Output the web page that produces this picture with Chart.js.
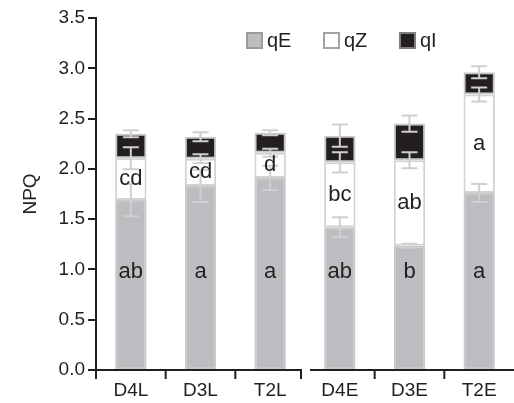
<!DOCTYPE html>
<html><head><meta charset="utf-8">
<script src="https://cdn.jsdelivr.net/npm/chart.js@4/dist/chart.umd.min.js"></script>
<style>html,body{margin:0;padding:0;background:#fff}</style>
</head><body>
<canvas id="c" width="514" height="403"></canvas>
<script>
// NPQ components per treatment (stacked: qE bottom, qZ middle, qI top)
const categories = ['D4L', 'D3L', 'T2L', 'D4E', 'D3E', 'T2E'];
const qE = [1.69, 1.83, 1.91, 1.42, 1.235, 1.76];
const qZ = [0.415, 0.27, 0.25, 0.645, 0.85, 0.98];
const qI = [0.245, 0.22, 0.20, 0.265, 0.365, 0.22];
const qEErr = [0.16, 0.16, 0.12, 0.10, 0.02, 0.09];
const qZErr = [0.11, 0.045, 0.04, 0.10, 0.08, 0.07];
const qIErr = [0.035, 0.045, 0.025, 0.11, 0.08, 0.06];
const qELetters = ['ab', 'a', 'a', 'ab', 'b', 'a'];
const qZLetters = ['cd', 'cd', 'd', 'bc', 'ab', 'a'];
const yTickValues = [0, 0.5, 1.0, 1.5, 2.0, 2.5, 3.0, 3.5];

const INK = '#231f20';
const FONT = 'Liberation Sans, Arial, sans-serif';
const errors = [qEErr, qZErr, qIErr];
const legendStyle = [
  { fill: '#bcbdc0', stroke: '#9c9c9c' },
  { fill: '#ffffff', stroke: '#a3a3a3' },
  { fill: INK, stroke: '#7d7d7d' }
];

// error bars centred on the top of each stacked segment
const errorBars = {
  id: 'errorBars',
  afterDatasetsDraw(chart) {
    const ctx = chart.ctx, y = chart.scales.y;
    ctx.save();
    ctx.strokeStyle = '#cfcfcf';
    ctx.lineWidth = 2;
    chart.data.datasets.forEach((ds, d) => {
      const meta = chart.getDatasetMeta(d);
      meta.data.forEach((bar, j) => {
        let cum = 0;
        for (let k = 0; k <= d; k++) cum += chart.data.datasets[k].data[j];
        const e = errors[d][j];
        const y1 = y.getPixelForValue(cum + e), y2 = y.getPixelForValue(cum - e);
        const x = bar.x, hw = 8;
        ctx.beginPath();
        ctx.moveTo(x, y1); ctx.lineTo(x, y2);
        ctx.moveTo(x - hw, y1); ctx.lineTo(x + hw, y1);
        ctx.moveTo(x - hw, y2); ctx.lineTo(x + hw, y2);
        ctx.stroke();
      });
    });
    ctx.restore();
  }
};

// significance letters inside the qE and qZ segments
const letters = {
  id: 'letters',
  afterDatasetsDraw(chart) {
    const ctx = chart.ctx, y = chart.scales.y;
    const meta = chart.getDatasetMeta(0);
    ctx.save();
    ctx.fillStyle = INK;
    ctx.font = '22px ' + FONT;
    ctx.textAlign = 'center';
    ctx.textBaseline = 'middle';
    meta.data.forEach((bar, j) => {
      ctx.fillText(qELetters[j], bar.x, y.getPixelForValue(0.98));
      ctx.fillText(qZLetters[j], bar.x, y.getPixelForValue(qE[j] + qZ[j] / 2));
    });
    ctx.restore();
  }
};

// broken x axis line with ticks at category boundaries, plus legend
const axisAndLegend = {
  id: 'axisAndLegend',
  afterDraw(chart) {
    const ctx = chart.ctx, a = chart.chartArea;
    const n = categories.length;
    const w = (a.right - a.left) / n;
    const b = i => a.left + i * w;
    ctx.save();
    ctx.strokeStyle = INK;
    ctx.lineWidth = 2;
    const yb = a.bottom;
    const leftEnd = b(3) - 3, rightStart = b(3) + 5;
    ctx.beginPath();
    ctx.moveTo(a.left - 1, yb); ctx.lineTo(leftEnd, yb);
    ctx.moveTo(rightStart, yb); ctx.lineTo(a.right, yb);
    // tick marks
    [a.left, b(1), b(2), leftEnd - 1, b(4), b(5)].forEach(px => {
      ctx.moveTo(px, yb); ctx.lineTo(px, yb + 9);
    });
    ctx.stroke();

    // legend
    const items = [{ x: 247, label: chart.data.datasets[0].label },
                   { x: 324, label: chart.data.datasets[1].label },
                   { x: 400, label: chart.data.datasets[2].label }];
    ctx.font = '20px ' + FONT;
    ctx.textBaseline = 'middle';
    ctx.textAlign = 'left';
    items.forEach((it, i) => {
      const s = legendStyle[i];
      ctx.fillStyle = s.fill;
      ctx.fillRect(it.x, 33, 15, 15);
      ctx.strokeStyle = s.stroke;
      ctx.lineWidth = 2;
      ctx.strokeRect(it.x, 33, 15, 15);
      ctx.fillStyle = INK;
      ctx.fillText(it.label, it.x + 20, 41);
    });
    ctx.restore();
  }
};

const barBase = { borderWidth: 2, borderSkipped: false, barPercentage: 0.45, categoryPercentage: 1 };

new Chart(document.getElementById('c'), {
  type: 'bar',
  data: {
    labels: categories,
    datasets: [
      Object.assign({ label: 'qE', data: qE, backgroundColor: '#bcbdc0', borderColor: '#c8c8c8' }, barBase),
      Object.assign({ label: 'qZ', data: qZ, backgroundColor: '#ffffff', borderColor: '#d2d2d2' }, barBase),
      Object.assign({ label: 'qI', data: qI, backgroundColor: INK, borderColor: '#c8c8c8' }, barBase)
    ]
  },
  options: {
    responsive: false,
    animation: false,
    layout: { padding: { top: 18, right: 0, bottom: 0, left: 0 } },
    plugins: { legend: { display: false }, tooltip: { enabled: false } },
    scales: {
      x: {
        stacked: true,
        offset: true,
        grid: { display: false },
        border: { display: false },
        ticks: { color: INK, font: { family: FONT, size: 19 }, padding: 1, maxRotation: 0 },
        afterFit(s) { s.height = 33; }
      },
      y: {
        stacked: true,
        min: 0, max: 3.5,
        afterBuildTicks(s) { s.ticks = yTickValues.map(v => ({ value: v })); },
        ticks: { color: INK, font: { family: FONT, size: 19 }, padding: 3, callback: v => Number(v).toFixed(1) },
        grid: { drawOnChartArea: false, tickLength: 8, color: INK, lineWidth: 2 },
        border: { color: INK, width: 2 },
        title: { display: true, text: 'NPQ', color: INK, font: { family: FONT, size: 19 }, padding: { top: 19, bottom: 0 } },
        afterFit(s) { s.width = 96; }
      }
    }
  },
  plugins: [errorBars, letters, axisAndLegend]
});
</script>
</body></html>
